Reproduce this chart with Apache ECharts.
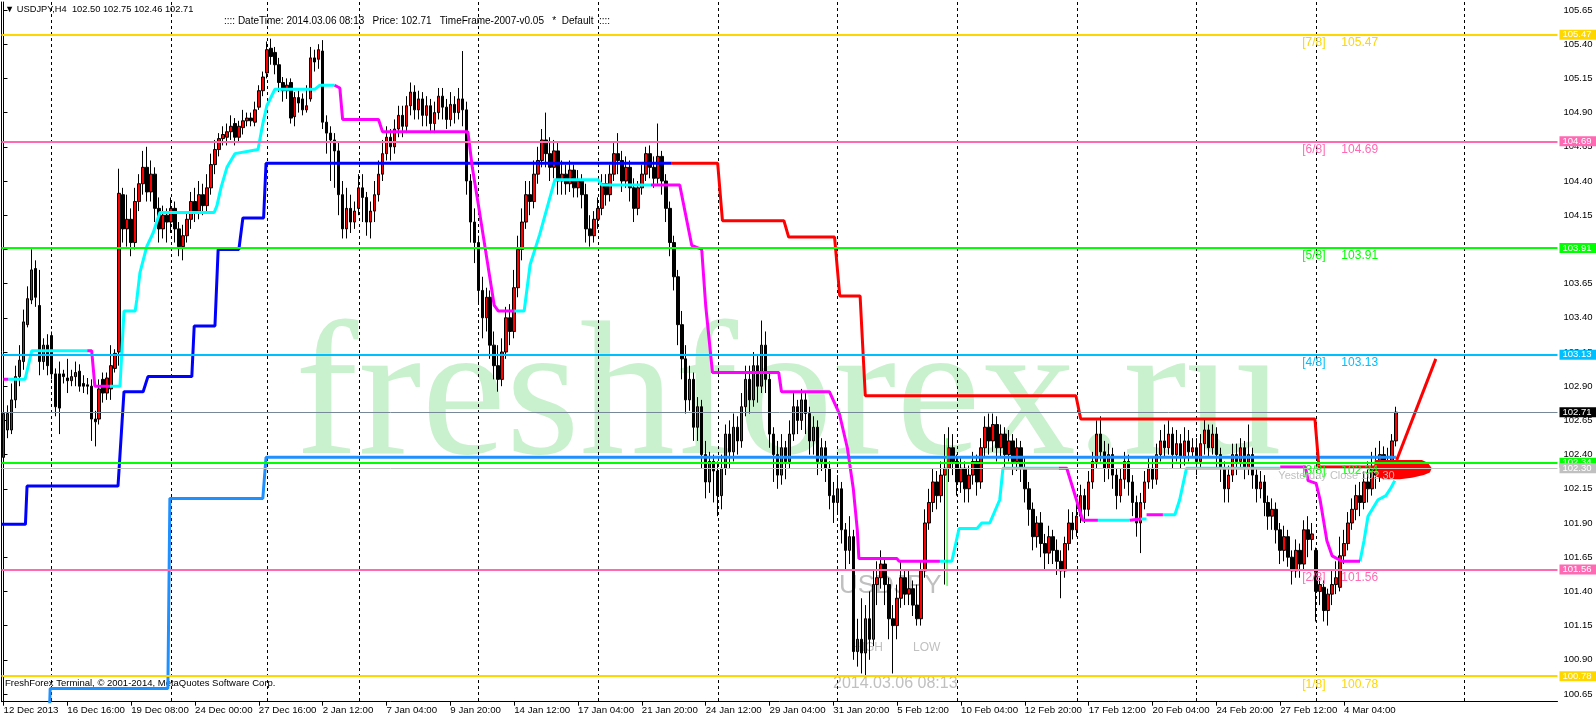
<!DOCTYPE html>
<html><head><meta charset="utf-8">
<script src="https://cdn.jsdelivr.net/npm/echarts@6/dist/echarts.min.js"></script>
<style>html,body{margin:0;padding:0;background:#fff}#c{width:1596px;height:720px}</style>
</head><body><div id="c"></div><script>
// ---------------- DATA ----------------
const xTickLabels = ['12 Dec 2013','16 Dec 16:00','19 Dec 08:00','24 Dec 00:00','27 Dec 16:00','2 Jan 12:00','7 Jan 04:00','9 Jan 20:00','14 Jan 12:00','17 Jan 04:00','21 Jan 20:00','24 Jan 12:00','29 Jan 04:00','31 Jan 20:00','5 Feb 12:00','10 Feb 04:00','12 Feb 20:00','17 Feb 12:00','20 Feb 04:00','24 Feb 20:00','27 Feb 12:00','4 Mar 04:00'];
const yTickValues = [100.65,100.90,101.15,101.40,101.65,101.90,102.15,102.40,102.65,102.90,103.15,103.40,103.65,103.90,104.15,104.40,104.65,104.90,105.15,105.40,105.65];
// [open, close, low, high] per H4 bar
const candles = [
[102.38,102.70,102.33,102.74],[102.58,102.70,102.52,102.76],[102.58,102.80,102.55,102.92],[102.80,102.97,102.74,103.05],[102.97,103.09,102.90,103.20],[103.08,103.37,103.02,103.46],[103.35,103.54,103.33,103.63],[103.53,103.75,103.50,103.90],[103.76,103.55,103.48,103.82],[103.49,103.08,102.98,103.75],[103.08,103.20,103.02,103.25],[103.20,103.05,102.98,103.28],
[103.27,102.99,102.95,103.30],[102.99,102.75,102.68,103.03],[102.99,102.74,102.55,103.08],[102.99,102.97,102.92,103.02],[102.96,102.94,102.85,103.10],[102.94,102.97,102.90,103.02],[102.97,103.00,102.90,103.08],[103.01,102.90,102.86,103.06],[102.92,102.90,102.85,102.98],[102.91,102.90,102.84,102.96],[102.90,102.66,102.50,102.95],[102.66,102.64,102.46,102.72],[102.66,102.88,102.62,102.95],[102.95,102.85,102.78,103.00],[102.85,102.96,102.80,103.00],[102.88,103.05,102.80,103.20],[103.03,103.14,103.00,103.17],[103.15,104.31,103.05,104.49],
[104.30,104.05,103.95,104.35],[104.05,104.12,103.92,104.30],[104.12,103.95,103.85,104.20],[103.95,104.25,103.90,104.35],[104.25,104.38,104.18,104.45],[104.38,104.50,104.30,104.62],[104.50,104.32,104.25,104.65],[104.32,104.45,104.25,104.55],[104.45,104.20,104.10,104.50],[104.20,104.05,103.95,104.28],[104.05,104.15,103.98,104.22],[104.15,104.10,103.95,104.20],
[104.10,104.20,104.02,104.28],[104.20,104.05,103.95,104.25],[104.05,103.92,103.85,104.10],[103.92,104.00,103.82,104.08],[104.00,104.12,103.95,104.18],[104.12,104.25,104.05,104.32],[104.25,104.18,104.10,104.35],[104.18,104.30,104.12,104.40],[104.30,104.22,104.15,104.38],[104.22,104.35,104.18,104.45],[104.35,104.52,104.30,104.60],[104.52,104.63,104.45,104.70],[104.63,104.71,104.58,104.75],[104.71,104.74,104.66,104.80],[104.72,104.76,104.66,104.82],[104.76,104.80,104.70,104.88],[104.82,104.72,104.66,104.86],[104.72,104.80,104.68,104.84],[104.79,104.84,104.74,104.92],[104.84,104.86,104.80,104.90],[104.86,104.84,104.80,104.90],[104.83,104.92,104.80,104.98],[104.94,105.06,104.92,105.10],[105.06,105.16,105.02,105.20],
[105.19,105.36,105.15,105.42],[105.37,105.31,105.25,105.44],[105.34,105.25,105.18,105.38],[105.25,105.12,105.05,105.30],[105.12,105.06,104.98,105.16],[105.06,105.10,105.00,105.15],[105.12,104.86,104.82,105.15],[104.87,105.01,104.80,105.05],[105.01,104.97,104.90,105.06],[105.00,104.92,104.88,105.04],[104.92,104.95,104.90,105.10],[105.00,105.30,104.98,105.38],[105.30,105.27,105.20,105.36],[105.29,105.36,105.22,105.40],[105.35,104.83,104.78,105.43],[104.83,104.75,104.60,104.88],[104.75,104.70,104.40,104.80],[104.70,104.62,104.35,104.75],[104.62,104.30,104.15,104.68],[104.30,104.05,103.98,104.40],[104.05,104.20,103.98,104.35],[104.20,104.10,104.02,104.30],[104.10,104.18,104.05,104.25],
[104.20,104.35,104.15,104.45],[104.35,104.28,104.10,104.45],[104.28,104.10,104.00,104.32],[104.10,104.18,103.98,104.25],[104.18,104.30,104.10,104.40],[104.30,104.45,104.25,104.55],[104.45,104.60,104.40,104.70],[104.60,104.72,104.55,104.80],[104.72,104.65,104.55,104.78],[104.65,104.78,104.60,104.85],[104.78,104.88,104.72,104.95],[104.88,104.80,104.72,104.95],[104.80,104.95,104.75,105.02],[104.95,105.05,104.88,105.12],[105.05,104.92,104.85,105.10],[104.92,105.00,104.85,105.06],[105.00,104.88,104.80,105.05],[104.88,104.95,104.80,105.02],[104.95,104.82,104.75,105.00],[104.82,104.90,104.75,104.98],[104.90,105.02,104.85,105.08],[105.02,104.94,104.85,105.08],[104.94,104.85,104.78,105.00],[104.85,104.96,104.80,105.05],[104.96,104.90,104.82,105.02],[104.90,105.00,104.85,105.08],[105.00,104.92,104.80,105.35],[104.92,104.40,104.30,104.98],[104.40,104.10,103.95,104.45],[104.10,103.95,103.80,104.20],
[103.95,103.60,103.50,104.00],[103.60,103.40,103.25,103.70],[103.40,103.55,103.30,103.62],[103.55,103.20,103.10,103.60],[103.20,103.05,102.95,103.30],[103.05,102.95,102.86,103.20],[102.95,103.15,102.90,103.25],[103.15,103.40,103.10,103.48],[103.40,103.30,103.20,103.50],[103.30,103.62,103.25,103.75],[103.62,103.90,103.55,104.00],[103.90,104.10,103.82,104.20],[104.10,104.30,104.05,104.40],[104.30,104.25,104.15,104.40],[104.25,104.45,104.20,104.55],[104.45,104.55,104.38,104.65],[104.55,104.70,104.50,104.78],[104.70,104.60,104.50,104.90],[104.60,104.50,104.40,104.72],[104.50,104.62,104.42,104.70],[104.62,104.40,104.30,104.68],[104.40,104.45,104.30,104.55],[104.45,104.38,104.30,104.52],[104.38,104.48,104.32,104.55],[104.48,104.35,104.28,104.52],[104.35,104.40,104.28,104.48],[104.40,104.30,104.20,104.45],[104.30,104.05,103.95,104.38],[104.05,104.00,103.92,104.15],[104.00,104.12,103.95,104.18],
[104.12,104.20,104.05,104.28],[104.20,104.38,104.15,104.45],[104.38,104.30,104.22,104.45],[104.30,104.45,104.25,104.52],[104.45,104.60,104.40,104.68],[104.60,104.55,104.45,104.75],[104.55,104.40,104.32,104.62],[104.40,104.50,104.35,104.58],[104.50,104.35,104.25,104.55],[104.35,104.20,104.10,104.42],[104.20,104.35,104.15,104.40],[104.35,104.45,104.30,104.52],[104.45,104.60,104.40,104.65],[104.60,104.50,104.42,104.66],[104.50,104.42,104.35,104.58],[104.42,104.58,104.38,104.82],[104.58,104.40,104.30,104.62],[104.40,104.20,104.10,104.45],[104.20,103.95,103.85,104.25],[103.95,103.70,103.60,104.00],[103.70,103.35,103.20,103.75],[103.35,103.10,102.95,103.45],[103.10,102.80,102.70,103.20],[102.80,102.95,102.72,103.05],[102.95,102.60,102.50,103.00],[102.60,102.75,102.50,102.82],[102.75,102.40,102.30,102.80],[102.40,102.20,102.08,102.50],[102.20,102.35,102.12,102.42],[102.35,102.28,102.05,102.40],
[102.28,102.10,101.95,102.35],[102.10,102.30,102.00,102.40],[102.30,102.55,102.25,102.62],[102.55,102.42,102.30,102.65],[102.42,102.60,102.35,102.70],[102.60,102.50,102.40,102.68],[102.50,102.75,102.45,102.85],[102.75,102.95,102.68,103.05],[102.95,102.80,102.70,103.05],[102.80,103.05,102.75,103.15],[103.05,102.90,102.78,103.12],[102.90,103.20,102.85,103.38],[103.20,102.95,102.85,103.30],[102.95,102.55,102.45,103.00],[102.55,102.40,102.20,102.60],[102.40,102.25,102.15,102.50],[102.25,102.45,102.18,102.55],[102.45,102.35,102.22,102.50],[102.35,102.55,102.30,102.65],[102.55,102.75,102.50,102.85],[102.75,102.65,102.55,102.80],[102.65,102.80,102.58,102.88],[102.80,102.70,102.55,102.85],[102.70,102.50,102.40,102.75],[102.50,102.60,102.40,102.68],[102.60,102.35,102.25,102.65],[102.35,102.45,102.28,102.52],[102.45,102.30,102.20,102.50],[102.30,102.10,102.00,102.35],[102.10,102.05,101.90,102.20],
[102.05,102.15,101.98,102.25],[102.15,101.85,101.75,102.20],[101.85,101.70,101.55,101.90],[101.70,101.80,101.60,101.95],[101.80,100.96,100.90,101.85],[100.96,101.05,100.85,101.20],[101.05,100.95,100.80,101.35],[100.95,101.20,100.78,101.30],[101.20,101.05,100.90,101.40],[101.05,101.45,101.00,101.55],[101.45,101.50,101.30,101.62],[101.50,101.60,101.42,101.70],[101.60,101.45,101.30,101.65],[101.45,101.20,101.05,101.50],[101.20,101.15,100.80,101.30],[101.15,101.35,101.05,101.45],[101.35,101.50,101.28,101.62],[101.50,101.38,101.30,101.55],[101.38,101.42,101.30,101.55],[101.42,101.30,101.22,101.48],[101.30,101.20,101.15,101.45],[101.20,101.55,101.15,101.62],[101.55,101.90,101.50,102.00],[101.90,102.05,101.85,102.15],[102.05,102.20,101.98,102.30],[102.20,102.10,102.00,102.28],[102.10,102.25,102.05,102.35],[102.25,102.30,101.45,102.55],[102.30,102.45,102.20,102.60],[102.45,102.35,102.25,102.55],
[102.35,102.20,102.10,102.40],[102.20,102.30,102.12,102.38],[102.30,102.15,102.05,102.35],[102.15,102.25,102.05,102.32],[102.25,102.35,102.18,102.42],[102.35,102.20,102.10,102.40],[102.20,102.45,102.15,102.52],[102.45,102.60,102.38,102.68],[102.60,102.50,102.40,102.70],[102.50,102.62,102.42,102.70],[102.62,102.45,102.35,102.68],[102.45,102.55,102.38,102.62],[102.55,102.40,102.30,102.60],[102.40,102.50,102.35,102.58],[102.50,102.35,102.25,102.55],[102.35,102.45,102.28,102.52],[102.45,102.30,102.20,102.50],[102.30,102.15,102.05,102.38],[102.15,102.00,101.88,102.20],[102.00,101.80,101.70,102.05],[101.80,101.90,101.72,101.95],[101.90,101.75,101.65,101.98],[101.75,101.68,101.55,101.82],[101.68,101.80,101.60,101.88],[101.80,101.70,101.60,101.85],[101.70,101.62,101.52,101.78],[101.62,101.55,101.35,101.70],[101.55,101.75,101.50,101.80],[101.75,101.90,101.70,102.00],[101.90,101.85,101.78,101.98],
[101.85,101.95,101.80,102.05],[101.95,102.10,101.90,102.18],[102.10,102.00,101.90,102.15],[102.00,102.20,101.95,102.28],[102.20,102.35,102.15,102.42],[102.35,102.55,102.30,102.65],[102.55,102.42,102.35,102.68],[102.42,102.30,102.20,102.50],[102.30,102.40,102.22,102.48],[102.40,102.25,102.15,102.45],[102.25,102.10,102.00,102.30],[102.10,102.22,102.05,102.30],[102.22,102.35,102.15,102.42],[102.35,102.20,102.10,102.40],[102.20,102.05,101.95,102.25],[102.05,101.90,101.80,102.10],[101.90,102.05,101.68,102.12],[102.05,102.20,102.00,102.28],[102.20,102.30,102.15,102.38],[102.30,102.22,102.15,102.38],[102.22,102.40,102.18,102.48],[102.40,102.50,102.35,102.58],[102.50,102.45,102.38,102.62],[102.45,102.55,102.40,102.65],[102.55,102.40,102.30,102.60],[102.40,102.48,102.35,102.58],[102.48,102.38,102.30,102.55],[102.38,102.50,102.32,102.60],[102.50,102.42,102.35,102.58],[102.42,102.45,102.38,102.52],
[102.45,102.35,102.25,102.52],[102.35,102.48,102.30,102.55],[102.48,102.58,102.40,102.66],[102.58,102.45,102.38,102.62],[102.45,102.55,102.40,102.62],[102.55,102.40,102.30,102.60],[102.40,102.30,102.20,102.45],[102.30,102.15,102.05,102.35],[102.15,102.25,102.05,102.32],[102.25,102.40,102.20,102.48],[102.40,102.35,102.25,102.48],[102.35,102.45,102.30,102.52],[102.45,102.30,102.22,102.50],[102.30,102.40,102.25,102.62],[102.40,102.25,102.15,102.45],[102.25,102.15,102.05,102.30],[102.15,102.20,102.08,102.28],[102.20,102.05,101.95,102.25],[102.05,101.95,101.85,102.10],[101.95,102.00,101.85,102.08],[102.00,101.85,101.75,102.05],[101.85,101.70,101.60,101.90],[101.70,101.80,101.62,101.88],[101.80,101.65,101.58,101.85],[101.65,101.55,101.45,101.70],[101.55,101.70,101.50,101.78],[101.70,101.60,101.50,101.75],[101.60,101.85,101.55,101.92],[101.85,101.78,101.65,101.95],[101.78,101.82,101.70,101.90],
[101.70,101.40,101.18,101.72],[101.40,101.45,101.30,101.50],[101.43,101.26,101.18,101.48],[101.26,101.38,101.15,101.42],[101.38,101.45,101.30,101.55],[101.45,101.50,101.38,101.62],[101.43,101.66,101.40,101.80],[101.66,101.75,101.60,101.85],[101.75,101.90,101.70,101.98],[101.90,102.00,101.85,102.08],[102.00,102.10,101.92,102.18],[102.10,102.05,101.95,102.20],[102.05,102.20,102.00,102.28],[102.20,102.15,102.05,102.35],[102.15,102.30,102.10,102.42],[102.30,102.25,102.15,102.45],[102.25,102.40,102.20,102.50],[102.40,102.30,102.22,102.46],[102.30,102.35,102.25,102.45],[102.35,102.50,102.30,102.55],[102.50,102.71,102.46,102.75]
];
const levelValues = [105.47,104.69,103.91,103.13,102.34,101.56,100.78];
const levelNames = ['[7/8]','[6/8]','[5/8]','[4/8]','[3/8]','[2/8]','[1/8]'];
const currentPrice = 102.71;
const yesterdayClose = 102.30;
const separatorBars = [12,42,66,89,119,149,179,209,239,269,299,329,366];
// indicator step lines: [bar, price]
const blueLine = [[-0.5,101.89],[5.5,101.89],[5.9,102.17],[28.7,102.17],[30.2,102.86],[35,102.86],[36.2,102.97],[47.2,102.97],[47.8,103.34],[53,103.34],[53.8,103.90],[59,103.90],[60,104.13],[65.2,104.13],[65.8,104.53],[167.5,104.53]];
const redLine = [[167.5,104.53],[179,104.53],[180.2,104.11],[195.6,104.11],[196.8,103.99],[208.3,103.99],[209.6,103.56],[214.7,103.56],[216,102.83],[268.8,102.83],[270,102.66],[328.7,102.66],[329.7,102.31],[349,102.31]];
const redForecast = [[349.2,102.36],[359,103.10]];
const forecastBlob = [[343.7,102.36],[355.5,102.36],[357,102.34],[358,102.30],[357.5,102.27],[356,102.25],[353,102.23],[350,102.22],[346,102.22],[344,102.24],[343.5,102.30]];
const dodgerLine = [[11.3,100.30],[11.7,100.69],[41.2,100.69],[41.7,102.08],[65,102.08],[65.8,102.38],[349,102.38]];
const cyanSegs = [
 [[1.2,102.95],[5.4,102.95],[7.1,103.16],[21,103.16]],
 [[26.7,102.90],[29.2,102.90],[30.2,103.45],[33,103.45],[33.4,103.53],[34.2,103.73],[35.9,103.92],[37.5,104.02],[39.2,104.17],[52.8,104.17],[53.5,104.22],[54.5,104.35],[56,104.50],[58,104.60],[63.8,104.63],[65,104.82],[66,104.95],[68,105.07],[78,105.07],[79.3,105.10],[83,105.10]],
 [[128,103.45],[130.5,103.45],[132,103.79],[134.4,104.01],[138.2,104.41],[149,104.41],[150,104.37],[162.3,104.37]],
 [[234.7,101.62],[237.7,101.62],[239.5,101.86],[244,101.86],[245.2,101.90],[247.2,101.90],[249.7,102.07],[250.5,102.30],[264.5,102.30]],
 [[274.3,101.92],[282.3,101.92]],
 [[285,101.93],[286.5,101.93]],
 [[290.6,101.96],[293.6,101.96],[294.8,102.07],[296.5,102.30],[320,102.30]],
 [[340,101.62],[341,101.77],[342,101.95],[344.5,102.07],[346.5,102.10],[347.8,102.16],[348.7,102.21]]
];
const magentaSegs = [
 [[0,102.95],[1.2,102.95]],
 [[21,103.16],[22.1,103.16],[22.9,102.90],[26.7,102.90]],
 [[83,105.10],[84.3,105.08],[85,104.85],[94,104.85],[95,104.76],[116.4,104.76],[117.5,104.50],[119,104.23],[121,103.86],[123,103.49],[124,103.45],[128,103.45]],
 [[162.3,104.37],[169.5,104.37],[172.5,103.93],[175,103.90],[176,103.49],[177.7,103.00],[194.3,103.00],[195,102.86],[207,102.86],[209.5,102.70],[211.5,102.45],[213,102.15],[214,101.85],[214.4,101.64],[223.9,101.64],[224.5,101.62],[234.7,101.62]],
 [[264.5,102.30],[266.5,102.30],[270.5,101.92],[274.3,101.92]],
 [[282.3,101.92],[285,101.93]],
 [[286.5,101.96],[290.6,101.96]],
 [[320,102.31],[326.3,102.31],[327,102.21],[329,102.19],[330,102.07],[331.7,101.77],[333,101.66],[335.5,101.62],[340,101.62]]
];
const limeMarks = [[[236.5,101.44],[236.5,102.52]]];

// ---------------- LAYOUT / STYLE ----------------
const N_SLOTS = 390;
const Y_MIN = 100.5937, Y_MAX = 105.7085;
const LEVEL_NAME_BAR = 325.4, LEVEL_VALUE_BAR = 335.2, YC_TEXT_BAR = 319.4;
const levelColors = ['#FFD700','#FF69B4','#00FF00','#00BFFF','#00FF00','#FF69B4','#FFD700'];
const FONT = '"Liberation Sans", Arial, sans-serif';

const cats = [];
for (let i = 0; i < N_SLOTS; i++) cats.push(String(i));
const showTick = (idx) => idx % 16 === 0 && (idx / 16) < xTickLabels.length;

const series = [];
// period separators
series.push({
  type: 'custom', xAxisIndex: 1, yAxisIndex: 0, z: 1, silent: true,
  data: separatorBars.map(b => [b]),
  renderItem: (params, api) => {
    const b = api.value(0);
    const p1 = api.coord([b, Y_MAX]), p2 = api.coord([b, Y_MIN]);
    const x = Math.round(p1[0]) + 0.5;
    return {type: 'line', shape: {x1: x, y1: p1[1], x2: x, y2: p2[1]}, style: {stroke: '#000', lineWidth: 1, lineDash: [3, 3]}};
  }
});
// candles + level lines
const boxLabel = (text, bg) => ({show: true, position: 'end', distance: 2, formatter: text, backgroundColor: bg, color: '#fff',
          fontSize: 9.5, fontFamily: FONT, lineHeight: 9, padding: [1, 8, 0, 3]});
const mlData = levelValues.map((v, i) => ({
  yAxis: v, lineStyle: {color: levelColors[i], width: 2, type: 'solid'}, label: boxLabel(v.toFixed(2), levelColors[i])
}));
mlData.push({yAxis: currentPrice, lineStyle: {color: '#778899', width: 1, type: 'solid'}, label: boxLabel(currentPrice.toFixed(2), '#000')});
mlData.push({yAxis: yesterdayClose, lineStyle: {color: '#C0C0C0', width: 1, type: 'solid'}, label: boxLabel(yesterdayClose.toFixed(2), '#C0C0C0')});
series.push({
  type: 'candlestick', xAxisIndex: 0, yAxisIndex: 0, z: 2, barWidth: 3,
  data: candles,
  itemStyle: {color: '#FF0000', color0: '#000000', borderColor: '#000000', borderColor0: '#000000', borderWidth: 1},
  markLine: {silent: true, symbol: ['none', 'none'], animation: false, data: mlData}
});
function lineSeries(data, color, width) {
  return {type: 'line', xAxisIndex: 1, yAxisIndex: 0, z: 4, data: data, showSymbol: false, symbol: 'none', silent: true,
          clip: true, lineStyle: {color: color, width: width}, itemStyle: {color: color}};
}
series.push(lineSeries(blueLine, '#0000FF', 3));
series.push(lineSeries(dodgerLine, '#1E90FF', 3));
series.push(lineSeries(redLine, '#FF0000', 3));
series.push(lineSeries(redForecast, '#FF0000', 3));
cyanSegs.forEach(s => series.push(lineSeries(s, '#00FFFF', 3)));
magentaSegs.forEach(s => series.push(lineSeries(s, '#FF00FF', 3)));
limeMarks.forEach(s => series.push(lineSeries(s, '#00FF00', 1)));
// forecast blob
series.push({
  type: 'custom', xAxisIndex: 1, yAxisIndex: 0, z: 4, silent: true, data: forecastBlob,
  renderItem: (params, api) => {
    if (params.dataIndex !== 0) return null;
    return {type: 'polygon', shape: {points: forecastBlob.map(p => api.coord(p))}, style: {fill: '#FF0000'}};
  }
});
// level texts
const textData = [];
levelValues.forEach((v, i) => {
  textData.push({value: [LEVEL_NAME_BAR, v], label: {formatter: levelNames[i], color: levelColors[i]}});
  textData.push({value: [LEVEL_VALUE_BAR, v], label: {formatter: v.toFixed(2), color: levelColors[i]}});
});
textData.push({value: [YC_TEXT_BAR, yesterdayClose], label: {formatter: 'Yesterday Close ' + yesterdayClose.toFixed(2), color: '#C0C0C0', fontSize: 11, offset: [0, 7.5]}});
series.push({
  type: 'scatter', xAxisIndex: 1, yAxisIndex: 0, z: 5, silent: true, symbol: 'rect', symbolSize: 1,
  itemStyle: {color: 'rgba(0,0,0,0)', opacity: 1},
  data: textData,
  label: {show: true, position: 'right', distance: 0, offset: [0, 8], fontSize: 12, fontFamily: FONT}
});

const gray = '#C0C0C0';
const option = {
  animation: false,
  backgroundColor: '#fff',
  grid: {left: 1.5, right: 38.5, top: 2, bottom: 18.3, containLabel: false},
  xAxis: [
    {type: 'category', data: cats, boundaryGap: true, gridIndex: 0,
     axisLine: {show: true, lineStyle: {color: '#000', width: 1}},
     axisTick: {show: true, interval: showTick, alignWithLabel: true, length: 4, lineStyle: {color: '#000'}},
     axisLabel: {show: true, interval: showTick, formatter: (v, idx) => (idx % 16 === 0 && xTickLabels[idx / 16]) ? xTickLabels[idx / 16] : '',
                 align: 'left', margin: 4, fontSize: 9.7, fontFamily: FONT, color: '#000'},
     splitLine: {show: false}},
    {type: 'value', min: -0.5, max: N_SLOTS - 0.5, show: false, gridIndex: 0}
  ],
  yAxis: [
    {type: 'value', position: 'right', min: Y_MIN, max: Y_MAX, scale: true,
     axisLine: {show: true, lineStyle: {color: '#000', width: 1}},
     axisTick: {show: true, length: 4, customValues: yTickValues, lineStyle: {color: '#000'}},
     axisLabel: {show: true, customValues: yTickValues, formatter: v => v.toFixed(2), margin: 6, fontSize: 9.5, fontFamily: FONT, color: '#000'},
     splitLine: {show: false}},
    {type: 'value', position: 'left', min: Y_MIN, max: Y_MAX, scale: true,
     axisLine: {show: true, onZero: false, lineStyle: {color: '#000', width: 1}},
     axisTick: {show: false}, axisLabel: {show: false}, splitLine: {show: false}}
  ],
  graphic: [
    {type: 'text', x: 295, y: 403, z: -10, silent: true,
     style: {text: 'freshforex.ru', font: '190px "Liberation Serif", serif', fill: '#C9F1CD', align: 'left', verticalAlign: 'middle'}},
    {type: 'text', x: 5, y: 9, silent: true, style: {text: '\u25BC USDJPY,H4  102.50 102.75 102.46 102.71', font: '9.3px ' + FONT, fill: '#000', verticalAlign: 'middle'}},
    {type: 'text', x: 224, y: 21, silent: true, style: {text: ':::: DateTime: 2014.03.06 08:13   Price: 102.71   TimeFrame-2007-v0.05   *  Default  ::::', font: '10px ' + FONT, fill: '#000', verticalAlign: 'middle'}},
    {type: 'text', x: 5, y: 683, silent: true, style: {text: 'FreshForex Terminal, \u00A9 2001-2014, MetaQuotes Software Corp.', font: '9.5px ' + FONT, fill: '#000', verticalAlign: 'middle'}},
    {type: 'text', x: 839, y: 586, silent: true, style: {text: 'USDJPY', font: '26px ' + FONT, fill: gray, verticalAlign: 'middle'}},
    {type: 'text', x: 853, y: 648, silent: true, style: {text: 'HIGH', font: '12px ' + FONT, fill: gray, verticalAlign: 'middle'}},
    {type: 'text', x: 913, y: 648, silent: true, style: {text: 'LOW', font: '12px ' + FONT, fill: gray, verticalAlign: 'middle'}},
    {type: 'text', x: 833, y: 684, silent: true, style: {text: '2014.03.06 08:13', font: '16px ' + FONT, fill: gray, verticalAlign: 'middle'}}
  ],
  series: series
};
const chart = echarts.init(document.getElementById('c'), null, {renderer: 'canvas', width: 1596, height: 720});
chart.setOption(option);
</script></body></html>
